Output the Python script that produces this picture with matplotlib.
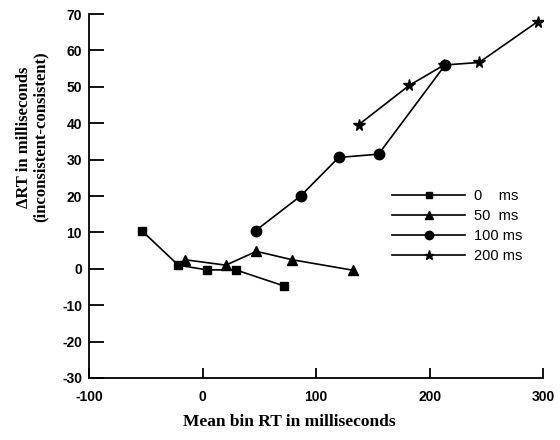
import matplotlib

matplotlib.use("Agg")
import matplotlib.pyplot as plt  # noqa: E402

plt.rcParams["axes.unicode_minus"] = False

# Mean bin RT (ms) and delta RT (ms) per SOA condition
x_0ms = [-53.6, -21.4, 3.8, 29.2, 71.6]
y_0ms = [10.5, 1.0, -0.3, -0.3, -4.7]

x_50ms = [-15.8, 20.5, 47.4, 78.7, 132.6]
y_50ms = [2.5, 1.0, 4.8, 2.5, -0.4]

x_100ms = [46.8, 86.3, 119.9, 155.0, 213.6]
y_100ms = [10.5, 20.0, 30.6, 31.5, 56.0]

x_200ms = [137.5, 182.0, 212.7, 243.5, 295.0]
y_200ms = [39.6, 50.4, 56.0, 56.7, 67.9]

labels = ["0    ms", "50  ms", "100 ms", "200 ms"]
x_ticks = [-100, 0, 100, 200, 300]
y_ticks = [-30, -20, -10, 0, 10, 20, 30, 40, 50, 60, 70]

fig = plt.figure(figsize=(5.6, 4.4), dpi=100)
ax = fig.add_axes([0.159, 0.141, 0.811, 0.827])

style = dict(color="black", lw=1.2, markerfacecolor="black", markeredgecolor="black")
ax.plot(x_0ms, y_0ms, marker="s", ms=6, label=labels[0], **style)
ax.plot(x_50ms, y_50ms, marker="^", ms=7, label=labels[1], **style)
ax.plot(x_100ms, y_100ms, marker="o", ms=7.5, label=labels[2], **style)
ax.plot(x_200ms, y_200ms, marker="*", ms=8.5, label=labels[3], **style)

ax.set_xlim(-100, 300)
ax.set_ylim(-30, 70)
ax.set_xticks(x_ticks)
ax.set_yticks(y_ticks)

ax.spines["top"].set_visible(False)
ax.spines["right"].set_visible(False)
ax.spines["left"].set_linewidth(1.3)
ax.spines["bottom"].set_linewidth(1.3)
ax.tick_params(axis="y", direction="in", length=11, width=1.3, pad=5)
ax.tick_params(axis="x", direction="in", length=7, width=1.3, pad=9)
for lab in ax.get_xticklabels() + ax.get_yticklabels():
    lab.set_fontfamily("Liberation Sans")
    lab.set_fontweight("bold")
    lab.set_fontsize(10)

ax.set_xlabel("Mean bin RT in milliseconds", fontfamily="Liberation Serif",
              fontweight="bold", fontsize=12.5)
ax.xaxis.set_label_coords(0.44, -0.1)
ax.set_ylabel("\u0394RT in milliseconds\n(inconsistent-consistent)",
              fontfamily="Liberation Serif", fontweight="bold", fontsize=12,
              linespacing=1.0)
ax.yaxis.set_label_coords(-0.09, 0.662)

leg = ax.legend(loc="upper left", bbox_to_anchor=(0.645, 0.547), frameon=False,
                handlelength=5.0, handletextpad=0.6, labelspacing=0.4,
                markerscale=0.8, borderpad=0.2,
                prop={"family": "Liberation Sans", "size": 10.5})

fig.savefig("out.png", dpi=100)
